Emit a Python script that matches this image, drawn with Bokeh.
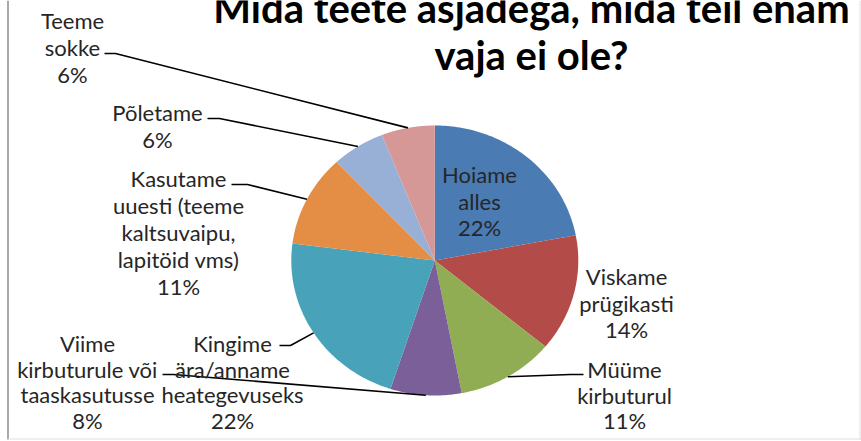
import numpy as np
from bokeh.plotting import figure
from bokeh.models import Range1d
from bokeh.core.properties import value
from bokeh.embed import file_html
from bokeh.resources import INLINE

# ---- data ----
title_lines = ["Mida teete asjadega, mida teil enam", "vaja ei ole?"]
categories = [
    "Hoiame\nalles",
    "Viskame\nprügikasti",
    "Müüme\nkirbuturul",
    "Viime\nkirbuturule või\ntaaskasutusse",
    "Kingime\nära/anname\nheategevuseks",
    "Kasutame\nuuesti (teeme\nkaltsuvaipu,\nlapitöid vms)",
    "Põletame",
    "Teeme\nsokke",
]
values = [22, 14, 11, 8, 22, 11, 6, 6]
colors = ["#4a7bb3", "#b34c49", "#90ad54", "#7b5f99", "#47a2ba",
          "#e38d45", "#98afd6", "#d69896"]

# ---- layout (picture pixel coordinates) ----
W, H = 861, 441
TEXT_DY = -9  # compensates the renderer's baseline offset
CX, CY, RX, RY = 434.3, 260.0, 143.5, 135.0
label_x = [479, 626, 624, 87, 232, 178, 157, 72]
label_y = [183, 285, 378, 352, 352, 187, 121, 29]
label_lh = [26.5, 26.5, 25.5, 25.5, 25.5, 27.0, 26.5, 27.0]
# leader: (start x, start y, elbow x, elbow y) or None
leaders = [None, None, (583, 374, 570, 374), (162, 374, 173, 374),
           (279, 345, 290, 345), (231, 184, 247, 184), (207, 118, 219, 118),
           (104, 53, 115, 53)]

p = figure(width=W, height=H, x_range=Range1d(0, W), y_range=Range1d(H, 0),
           output_backend="svg", toolbar_location=None, min_border=0,
           x_axis_location=None, y_axis_location=None)
p.grid.visible = False
p.outline_line_color = None
p.background_fill_color = "white"
p.border_fill_color = "white"

# pie slices
total = float(sum(values))
cum = np.concatenate([[0], np.cumsum(values)]) / total * 2 * np.pi
pxs, pys = [], []
mids = []
for i in range(len(values)):
    t = np.linspace(cum[i], cum[i + 1], 80)
    pxs.append([CX] + list(CX + RX * np.sin(t)))
    pys.append([CY] + list(CY - RY * np.cos(t)))
    mids.append((cum[i] + cum[i + 1]) / 2)
p.patches(pxs, pys, fill_color=colors, line_color=None)

# leader lines
lxs, lys = [], []
for i, ld in enumerate(leaders):
    if ld is None:
        continue
    ex = CX + RX * np.sin(mids[i])
    ey = CY - RY * np.cos(mids[i])
    lxs.append([ld[0], ld[2], ex])
    lys.append([ld[1], ld[3], ey])
p.multi_line(lxs, lys, line_color="black", line_width=1.6)

# labels
tx, ty, tt = [], [], []
for i, cat in enumerate(categories):
    lines = cat.split("\n") + [f"{values[i]}%"]
    for j, ln in enumerate(lines):
        tx.append(label_x[i])
        ty.append(label_y[i] + j * label_lh[i] + TEXT_DY)
        tt.append(ln)
p.text(x=tx, y=ty, text=tt, text_font=value("Lato"), text_font_size=value("22px"),
       text_align="center", text_baseline="alphabetic", text_color="#262626")

# title
p.text(x=[531, 531], y=[16 + TEXT_DY, 63 + TEXT_DY], text=title_lines,
       text_font=value("Lato"), text_font_size=value("40px"), text_font_style="bold",
       text_align="center", text_baseline="alphabetic", text_color="black")

# frame
p.line([7.5, 7.5], [0, 439], line_color="#8c8c8c", line_width=1.5)
p.line([7, 861], [438.5, 438.5], line_color="#dedede", line_width=1)
p.line([859.5, 859.5], [0, 439], line_color="#dedede", line_width=1)

open("out.html", "w").write(file_html(p, INLINE))
